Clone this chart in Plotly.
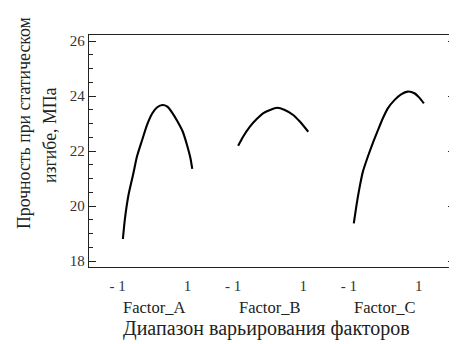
import plotly.graph_objects as go

# ---- data (coded factor level -> strength, MPa) ----
factor_names = ["Factor_A", "Factor_B", "Factor_C"]
factor_offsets = [0.0, 3.3, 6.6]

a_x = [-0.99, -0.93, -0.83, -0.69, -0.59, -0.44, -0.30, -0.15, -0.01, 0.14, 0.28, 0.43, 0.57, 0.72, 0.84, 0.94, 0.99]
a_y = [18.80, 19.55, 20.40, 21.19, 21.79, 22.40, 22.95, 23.37, 23.59, 23.67, 23.61, 23.37, 23.07, 22.70, 22.22, 21.73, 21.35]

b_x = [-1.00, -0.86, -0.67, -0.47, -0.29, -0.09, 0.11, 0.33, 0.57, 0.76, 1.00]
b_y = [22.19, 22.52, 22.88, 23.16, 23.37, 23.49, 23.57, 23.49, 23.31, 23.07, 22.70]

c_x = [-1.00, -0.93, -0.84, -0.74, -0.60, -0.46, -0.31, -0.17, -0.03, 0.16, 0.35, 0.54, 0.73, 0.87, 1.00]
c_y = [19.37, 19.97, 20.64, 21.25, 21.79, 22.28, 22.76, 23.19, 23.55, 23.85, 24.06, 24.16, 24.10, 23.94, 23.73]

level_vals = [-1, 1]
level_text = ["- 1", "1"]
y_ticks = [18, 20, 22, 24, 26]

y_title_lines = ["Прочность при статическом", "изгибе, МПа"]
x_title = "Диапазон варьирования факторов"

# ---- figure ----
FONT = "Liberation Serif, Times New Roman, serif"
fig = go.Figure()

series = [(a_x, a_y), (b_x, b_y), (c_x, c_y)]
y_refs = ["y", "y", "y2"]
for (xs, ys), off, name, yr in zip(series, factor_offsets, factor_names, y_refs):
    fig.add_trace(go.Scatter(
        x=[off + v for v in xs], y=ys, mode="lines", name=name, yaxis=yr,
        line=dict(color="black", width=2.1, shape="spline", smoothing=0.6),
        showlegend=False, hoverinfo="skip"))

tickvals, ticktext = [], []
for off in factor_offsets:
    for v, t in zip(level_vals, level_text):
        tickvals.append(off + v)
        ticktext.append(t)

YRANGE = [17.782, 26.218]
# the page body has an 8px margin, so the figure is sized to end at the window edge
fig.update_layout(
    width=449, height=336,
    margin=dict(l=81, r=3, t=27, b=77),
    paper_bgcolor="white", plot_bgcolor="white",
    font=dict(family=FONT, color="#333333"),
    xaxis=dict(
        range=[-1.957, 8.46], showgrid=False, zeroline=False,
        showline=True, linecolor="#222222", linewidth=1.3, mirror=True,
        ticks="", tickvals=tickvals, ticktext=ticktext,
        tickfont=dict(family=FONT, size=15, color="#333333"),
        ticklabelshift=-5, ticklabelstandoff=5,
    ),
    yaxis=dict(
        range=YRANGE, showgrid=False, zeroline=False,
        showline=True, linecolor="#222222", linewidth=1.3, mirror=False,
        ticks="inside", ticklen=7, tickwidth=1.2, tickcolor="#222222",
        tickvals=y_ticks,
        minor=dict(ticks="inside", ticklen=4, tickwidth=1, tickcolor="#222222", dtick=0.5, showgrid=False),
        tickfont=dict(family=FONT, size=15, color="#333333"),
    ),
    yaxis2=dict(
        range=YRANGE, overlaying="y", side="right", matches="y",
        showgrid=False, zeroline=False, showline=False, showticklabels=False,
        ticks="inside", ticklen=6, tickwidth=1.2, tickcolor="#222222",
        tickvals=y_ticks,
        minor=dict(ticks="inside", ticklen=4, tickwidth=1, tickcolor="#222222", dtick=0.5, showgrid=False),
    ),
)

for off, name in zip(factor_offsets, factor_names):
    fig.add_annotation(x=off, y=0, xref="x", yref="paper", yanchor="middle",
                       yshift=-40, xshift=-4,
                       text=name, showarrow=False,
                       font=dict(family=FONT, size=16.5, color="#222222"))

fig.add_annotation(x=0.486, y=0, xref="paper", yref="paper", yshift=-61, yanchor="middle",
                   text=x_title, showarrow=False,
                   font=dict(family=FONT, size=20, color="#222222"))

fig.add_annotation(x=0, y=0, xref="paper", yref="paper", xanchor="center", yanchor="middle",
                   xshift=24 - 89, yshift=267 - 123,
                   text=y_title_lines[0], textangle=-90, showarrow=False,
                   font=dict(family=FONT, size=17.8, color="#222222"))
fig.add_annotation(x=0, y=0, xref="paper", yref="paper", xanchor="center", yanchor="middle",
                   xshift=50 - 89, yshift=267 - 135,
                   text=y_title_lines[1], textangle=-90, showarrow=False,
                   font=dict(family=FONT, size=17.8, color="#222222"))

fig.write_html("out.html")
